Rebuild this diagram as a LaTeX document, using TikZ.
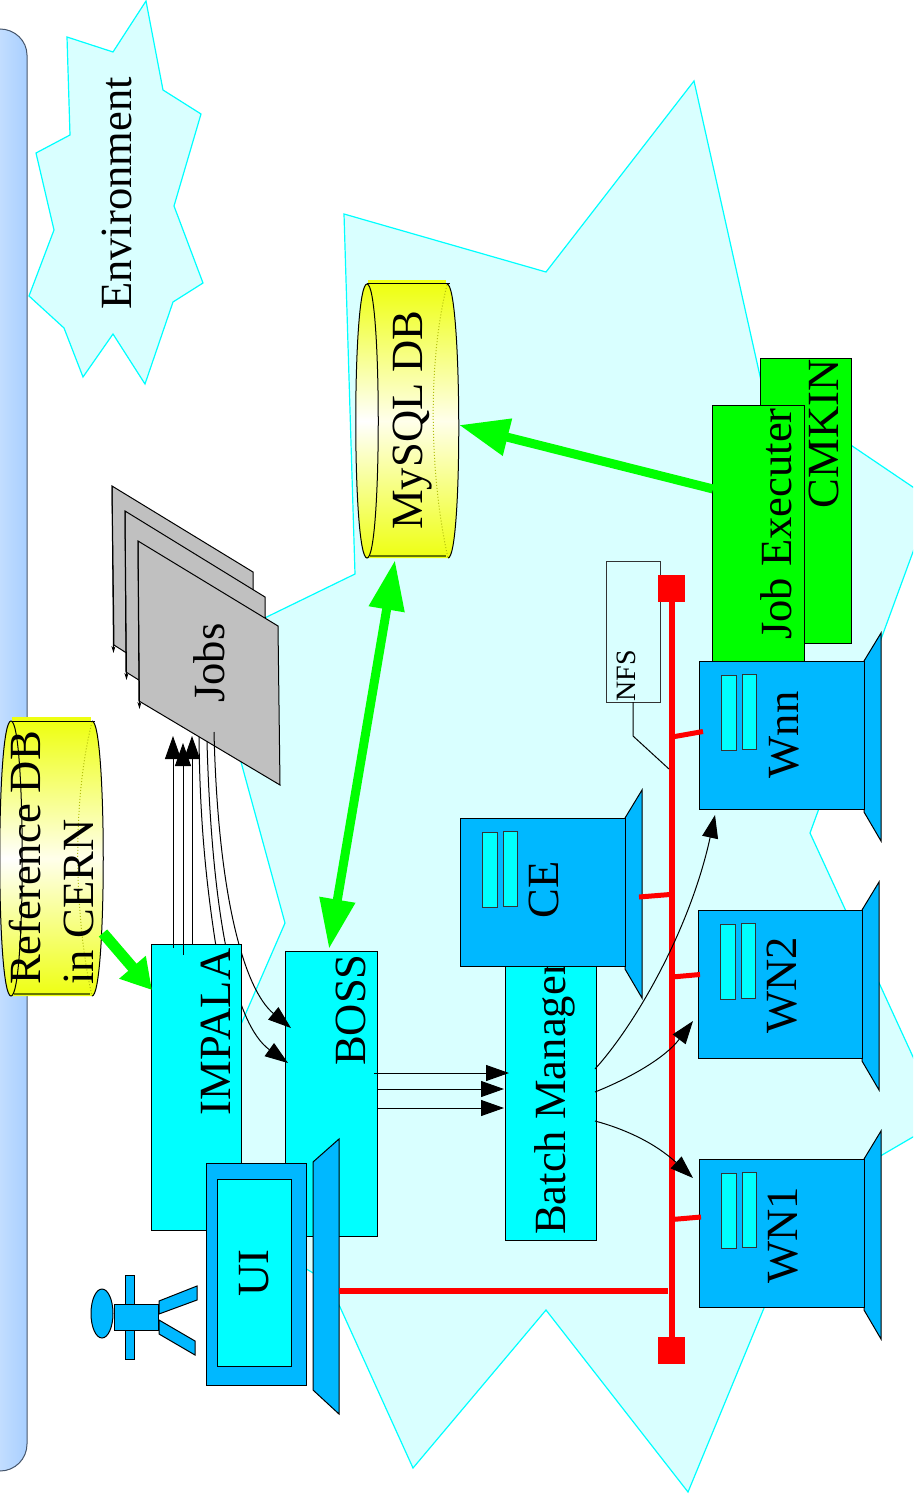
\documentclass[tikz,border=0pt]{standalone}
\usepackage{fontspec}
\setmainfont{Liberation Serif}
\usetikzlibrary{arrows.meta,fit,shapes.geometric}
\definecolor{pale}{HTML}{D9FFFF}
\definecolor{aqua}{HTML}{00FFFF}
\definecolor{srvblue}{HTML}{00B8FF}
\definecolor{lime}{HTML}{00FF00}
\definecolor{pure}{HTML}{FF0000}
\definecolor{pagegray}{HTML}{C0C0C0}
\definecolor{dbyellow}{HTML}{EEFF11}
\definecolor{dbolive}{HTML}{667700}
\definecolor{barl}{HTML}{C2DDFF}
\definecolor{barr}{HTML}{A8CFFF}
\definecolor{baredge}{HTML}{46566C}
\tikzset{
  x=1pt,y=-1pt,
  cloudshape/.style={fill=pale,draw=aqua,line width=1.2pt,line join=miter},
  lab/.style={rotate=90,anchor=base,inner sep=0pt,outer sep=0pt,font=\fontsize{44.6}{48}\selectfont},
  smalllab/.style={lab,font=\fontsize{28}{30}\selectfont},
  cbox/.style={fill=aqua,draw=black,inner sep=0pt,outer sep=0pt},
  gbox/.style={fill=lime,draw=black,inner sep=0pt,outer sep=0pt},
  srv/.style={fill=srvblue,draw=black,inner sep=0pt,outer sep=0pt},
  slot/.style={fill=aqua,draw=black!80,inner sep=0pt,outer sep=0pt},
  jobpage/.style={fill=pagegray,draw=black},
  pagetip/.style={draw=black,-{Stealth[length=7pt,width=4pt]}},
  thinarrow/.style={draw=black,-{Triangle[length=23pt,width=16pt]}},
  fatgreen/.style={draw=lime,line width=9pt},
  redbus/.style={draw=pure,line width=6pt},
  redstub/.style={draw=pure,line width=5pt},
  redend/.style={fill=pure,draw=none,inner sep=0pt,outer sep=0pt},
}
\newcommand{\serverbox}[5]{%
  \draw[srv] (#4,#3) -- (#4+17,#3-28) -- (#4+17,#5+32) -- (#4,#5+3) -- cycle;
  \node[srv,fit={(#2,#3)(#4,#5)}] (#1) {};
  \node[slot,fit={(#2+22,#3+14)(#2+37,#3+89)}] (#1a) {};
  \node[slot,fit={(#2+43,#3+13)(#2+57,#3+88)}] (#1b) {};
}
% left cx, top, bottom, right end x at top, right end x at bottom
\newcommand{\dbcyl}[5]{%
  \fill[dbyellow] (#1+1,#2-4) rectangle (#4-1,#2+2);
  \shade[top color=dbyellow,bottom color=dbyellow,middle color=white!92!yellow]
    (#1,#2) -- (#4,#2) .. controls (#4+15,#2) and (#5+15,#3) .. (#5,#3) -- (#1,#3)
    .. controls (#1-15,#3) and (#1-15,#2) .. (#1,#2) -- cycle;
  \draw[draw=black!25!dbyellow,dotted] (#4,#2+1) .. controls (#4-20,#2+80) and (#5-18,#3-80) .. (#5,#3);
  \draw[draw=dbolive,line width=2pt] (#1+3,#3-2) -- (#5-2,#3-2);
  \draw[black] (#1,#2) -- (#4+3,#2);
  \draw[black] (#4,#2) .. controls (#4+15,#2) and (#5+15,#3) .. (#5,#3);
  \shade[top color=dbyellow,bottom color=dbyellow,middle color=white]
    (#1,#2) .. controls (#1+15,#2) and (#1+15,#3) .. (#1,#3)
    .. controls (#1-15,#3) and (#1-15,#2) .. (#1,#2) -- cycle;
  \draw[black] (#1,#2) .. controls (#1+15,#2) and (#1+15,#3) .. (#1,#3)
    .. controls (#1-15,#3) and (#1-15,#2) .. (#1,#2) -- cycle;
}
\begin{document}
\begin{tikzpicture}[line width=1pt]
\path[use as bounding box] (0,0) rectangle (913,1495);
\clip (0,0) rectangle (913,1495);

% large environment cloud
\draw[cloudshape] (344,214) -- (546,272) -- (694,81) -- (762,385) -- (932,500)
  -- (810,833) -- (880,985) -- (942,1120) -- (805,1200) -- (764,1308) -- (688,1492)
  -- (546,1310) -- (413,1468) -- (340,1307) -- (325,1280) -- (232,1225) -- (232,1045)
  -- (285,923) -- (235,740) -- (240,630) -- (355,574) -- cycle;

% side bar
\shade[left color=barl,right color=barr] (0,29) .. controls (15,29) and (27,41) .. (27,55)
  -- (27,1444) .. controls (27,1459) and (15,1471) .. (0,1471) -- cycle;
\draw[baredge] (0,29) .. controls (15,29) and (27,41) .. (27,55)
  -- (27,1444) .. controls (27,1459) and (15,1471) .. (0,1471);

% legend cloud
\draw[cloudshape] (146,1) -- (163,90) -- (201,114) -- (174,206) -- (203,283) -- (173,302)
  -- (145,384) -- (113,334) -- (83,377) -- (64,328) -- (29,296) -- (54,230) -- (36,153)
  -- (70,135) -- (67,37) -- (113,52) -- cycle;
\node[lab] (envlabel) at (131,193.5) {Environment};

% job stack
\draw[jobpage] (112,486) -- (253,572) -- (255,735) -- (114,645) -- cycle;
\draw[pagetip] (112,486) -- (113.5,653);
\draw[jobpage] (125,511) -- (265,597) -- (267,760) -- (126,672) -- cycle;
\draw[pagetip] (125,511) -- (126.5,680);
\draw[jobpage] (138,541) -- (278,626) -- (280,785) -- (139,701) -- cycle;
\draw[pagetip] (138,541) -- (139.5,709);
\node[lab] (jobslabel) at (224,663) {Jobs};
\coordinate (jobsA) at (214,732);
\coordinate (jobsB) at (207,742);
\coordinate (jobsC) at (199,737);

% BOSS lies under the arrow tips, IMPALA above the curves
\node[cbox,fit={(285,951)(377,1236)}] (boss) {};
\node[lab] (bosslabel) at (365,1010) {BOSS};

\coordinate (bossA) at (291,1028);
\coordinate (bossB) at (288,1063);
\coordinate (impalaHide) at (225,1000);
\draw (jobsC) .. controls (200,830) and (207,900) .. (impalaHide);
\draw[thinarrow] (jobsA) .. controls (218,900) and (245,990) .. (bossA);
\draw[thinarrow] (jobsB) .. controls (212,920) and (235,1025) .. (bossB);

% boxes
\node[cbox,fit={(151,944)(241,1230)}] (impala) {};
\node[lab] (impalalabel) at (230,1032) {IMPALA};
\node[cbox,fit={(505,950)(596,1240)}] (batch) {};
\node[lab] (batchlabel) at (565,1098) {Batch Manager};

% up arrows IMPALA to jobs
\coordinate (impA) at (173,948);
\coordinate (impB) at (183,955);
\coordinate (impC) at (192,944);
\coordinate (upA) at (173,736);
\coordinate (upB) at (183,743);
\coordinate (upC) at (192,736);
\draw[thinarrow] (impA) -- (upA);
\draw[thinarrow] (impB) -- (upB);
\draw[thinarrow] (impC) -- (upC);

% MySQL and reference DB
\dbcyl{367}{284}{558}{447}{448}
\node[lab] (mysqllabel) at (422,420) {MySQL DB};
\dbcyl{11}{721}{996}{92}{92}
\node[lab] (reflabel) at (40,858) {Reference DB};
\node[lab] (cernlabel) at (93,902) {in CERN};

% job executer stack
\node[gbox,fit={(760,358)(851,643)}] (cmkin) {};
\node[lab] (cmkinlabel) at (838,434) {CMKIN};
\node[gbox,fit={(712,405)(804,665)}] (jobex) {};
\node[lab] (jobexlabel) at (791,524) {Job Executer};

% servers
\serverbox{ce}{460}{818}{625}{966}
\node[lab] (celabel) at (558,890) {CE};
\serverbox{wnn}{699}{661}{864}{809}
\node[lab] (wnnlabel) at (798,735) {Wnn};
\serverbox{wntwo}{698}{910}{862}{1058}
\node[lab] (wntwolabel) at (796,985) {WN2};
\serverbox{wnone}{699}{1159}{864}{1307}
\node[lab] (wnonelabel) at (797,1235) {WN1};

% UI
\draw[srv] (313,1162) -- (339,1139) -- (339,1414) -- (313,1390) -- cycle;
\node[srv,fit={(206,1163)(306,1385)}] (ui) {};
\node[cbox,fit={(217,1179)(291,1366)}] (uiscreen) {};
\node[lab] (uilabel) at (268,1273) {UI};

% person
\node[srv,ellipse,minimum width=22pt,minimum height=49pt] (head) at (102,1313.5) {};
\node[srv,fit={(125,1275)(134,1359)}] (arms) {};
\node[srv,fit={(114,1304)(158,1330)}] (torso) {};
\draw[srv] (159,1301) -- (197,1286) -- (197,1300) -- (159,1314) -- cycle;
\draw[srv] (159,1320) -- (195,1341) -- (195,1355) -- (159,1334) -- cycle;

% NFS
\node[draw=black!80,fit={(606,561)(660,702)},inner sep=0pt,outer sep=0pt] (nfs) {};
\node[smalllab] (nfslabel) at (635,676) {NFS};

% network
\coordinate (uiport) at (339,1291);
\coordinate (busjoin) at (668,1291);
\node[redend,fit={(658,575)(685,602)}] (busTop) {};
\node[redend,fit={(658,1337)(685,1364)}] (busBottom) {};
\draw[redbus] (busTop.south) -- (busBottom.north);
\draw[redbus] (uiport) -- (busjoin);
\coordinate (tapW) at (672,737);   \coordinate (portW) at (703,731.5);
\coordinate (tapC) at (670,894.5); \coordinate (portC) at (639,897);
\coordinate (tap2) at (672,977);   \coordinate (port2) at (700,974.5);
\coordinate (tap1) at (672,1219.5);\coordinate (port1) at (701,1217);
\draw[redstub] (tapW) -- (portW);
\draw[redstub] (tapC) -- (portC);
\draw[redstub] (tap2) -- (port2);
\draw[redstub] (tap1) -- (port1);

% NFS link
\coordinate (nfsout) at (633,702);
\coordinate (nfsbend) at (633,736);
\coordinate (nfstap) at (669,769);
\draw (nfsout) -- (nfsbend) -- (nfstap);

% BOSS to Batch
\coordinate (bossOutA) at (374,1073); \coordinate (batchInA) at (509,1073);
\coordinate (bossOutB) at (378,1089); \coordinate (batchInB) at (504,1089);
\coordinate (bossOutC) at (378,1108); \coordinate (batchInC) at (504,1108);
\draw[thinarrow] (bossOutA) -- (batchInA);
\draw[thinarrow] (bossOutB) -- (batchInB);
\draw[thinarrow] (bossOutC) -- (batchInC);

% Batch to workers
\coordinate (batchOutA) at (595,1121); \coordinate (wnoneIn) at (693,1178);
\coordinate (batchOutB) at (595,1092); \coordinate (wntwoIn) at (693,1021);
\coordinate (batchOutC) at (595,1069); \coordinate (wnnIn) at (715,815);
\draw[thinarrow] (batchOutA) .. controls (625,1129) and (655,1143) .. (wnoneIn);
\draw[thinarrow] (batchOutB) .. controls (630,1078) and (665,1058) .. (wntwoIn);
\draw[thinarrow] (batchOutC) .. controls (635,1025) and (690,930) .. (wnnIn);

% green arrows
\coordinate (refOut) at (103,933);
\coordinate (impalaIn) at (152,990);
\draw[draw=lime,line width=11pt,-{Triangle[length=30pt,width=33pt]}] (refOut) -- (impalaIn);
\coordinate (mysqlBottom) at (395,560);
\coordinate (bossTop) at (329,949);
\draw[fatgreen,{Triangle[length=50pt,width=34pt]}-{Triangle[length=50pt,width=34pt]}] (mysqlBottom) -- (bossTop);
\coordinate (jobexOut) at (713,489);
\coordinate (mysqlRight) at (459,425);
\draw[fatgreen,-{Triangle[length=50pt,width=36pt]}] (jobexOut) -- (mysqlRight);
\end{tikzpicture}
\end{document}
